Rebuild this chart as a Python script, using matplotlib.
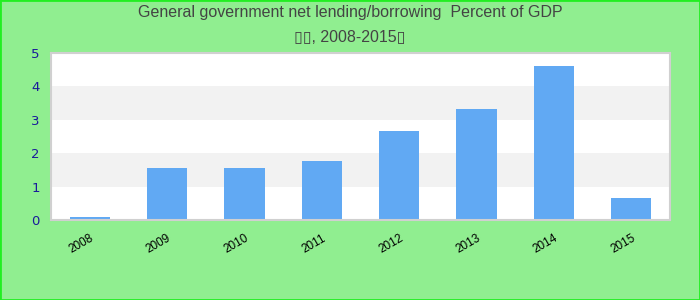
import numpy as np
import matplotlib
matplotlib.use("Agg")
import matplotlib.pyplot as plt
import matplotlib.transforms as mtransforms
from matplotlib.patches import Rectangle

years = ["2008", "2009", "2010", "2011", "2012", "2013", "2014", "2015"]
values = [0.1, 1.56, 1.56, 1.77, 2.67, 3.33, 4.62, 0.66]
title_lines = ["General government net lending/borrowing  Percent of GDP",
               "\u25af\u25af, 2008-2015\u25af"]

plt.rcParams['font.family'] = ['Liberation Sans', 'DejaVu Sans']

fig = plt.figure(figsize=(7, 3), dpi=100, facecolor='#90ee90')
ax = fig.add_axes([51/700, 1 - 220/300, 619/700, 167/300])
ax.set_facecolor('white')

# alternating bands
for k in range(5):
    if k % 2 == 1:
        ax.axhspan(k, k + 1, color='#f2f2f2', zorder=0, lw=0)

x = np.arange(len(years))
ax.bar(x, values, width=0.52, color='#61a9f3', zorder=2)

ax.set_xlim(-0.5, len(years) - 0.5)
ax.set_ylim(0, 5)
ax.set_yticks(range(6))
ax.set_yticklabels([str(i) for i in range(6)], color='#1a1a9a', fontsize=9.5,
                   family='DejaVu Sans')
ax.set_xticks(x)
ax.set_xticklabels(years, rotation=30, ha='right', rotation_mode='anchor',
                   fontsize=8.5, color='black')
shift = mtransforms.ScaledTranslation(-5/100, 0, fig.dpi_scale_trans)
for lab in ax.get_xticklabels():
    lab.set_transform(lab.get_transform() + shift)
ax.tick_params(axis='both', length=0)
ax.tick_params(axis='y', pad=8)
ax.tick_params(axis='x', pad=9)
for s in ax.spines.values():
    s.set_color('#d0d0d0')
    s.set_linewidth(1.5)

fig.text(0.5, 1 - 13/300, title_lines[0], ha='center', va='center',
         fontsize=11.5, color='#444444')
fig.text(0.5, 1 - 38/300, title_lines[1], ha='center', va='center',
         fontsize=11.5, color='#444444')

fig.patches.append(Rectangle((0, 0), 1, 1, transform=fig.transFigure,
                             fill=False, edgecolor='#22ee22', lw=2))

fig.savefig("out.png", dpi=100, facecolor=fig.get_facecolor())
